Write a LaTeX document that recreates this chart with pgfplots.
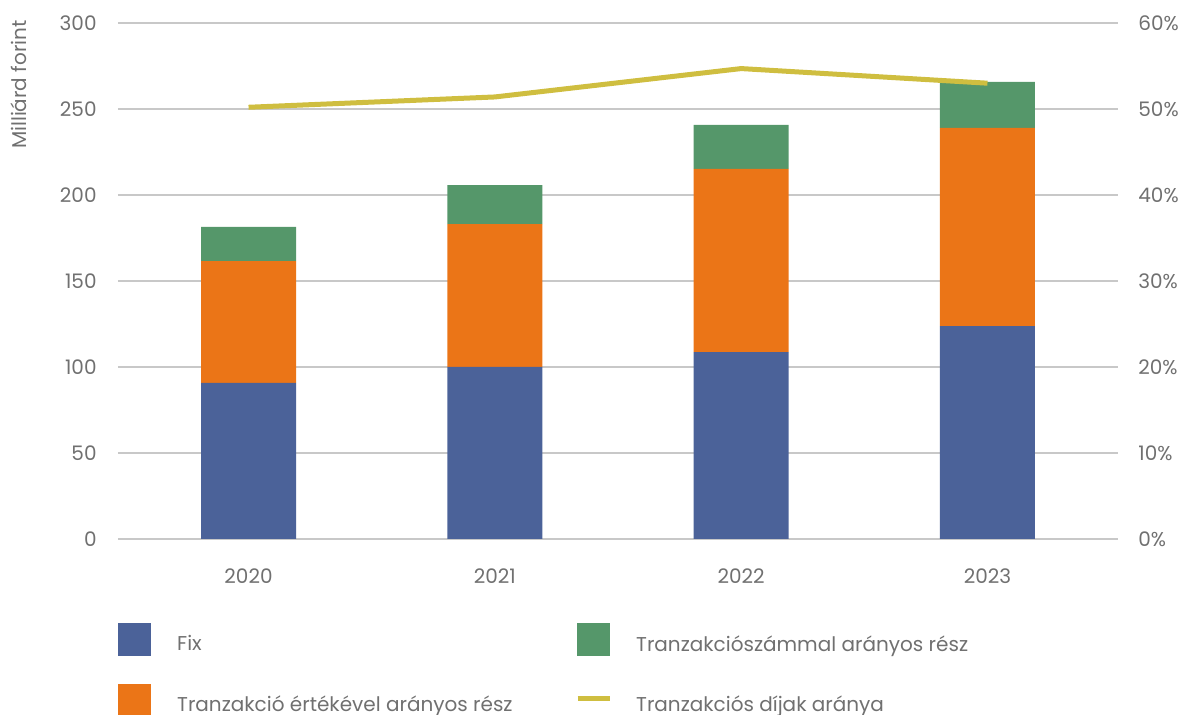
\documentclass[border=0pt]{standalone}
\usepackage{pgfplots}
\pgfplotsset{compat=1.18}
\usepackage{fontspec}
\setmainfont{Poppins}
\definecolor{fixblue}{HTML}{4B6299}
\definecolor{valorange}{HTML}{EB7517}
\definecolor{cntgreen}{HTML}{55976A}
\definecolor{lineyellow}{HTML}{CFBE40}
\definecolor{gridgray}{HTML}{C8C8C8}
\definecolor{txtgray}{HTML}{707070}
\begin{document}
\begin{tikzpicture}[font=\fontsize{10}{12}\selectfont]
\pgfplotsset{
  common/.style={
    width=500pt, height=258pt, scale only axis,
    xmin=-0.53, xmax=3.53,
    axis line style={draw=none},
    tick style={draw=none},
    /pgf/number format/assume math mode=true,
    ticklabel style={text=txtgray},
  }
}
\begin{axis}[common, name=ax,
  ymin=0, ymax=300, ytick={0,50,...,300},
  ymajorgrids, grid style={gridgray, line width=0.75pt},
  xtick={0,1,2,3}, xticklabels={2020,2021,2022,2023},
  xticklabel style={anchor=base, inner sep=0pt, yshift=-22.5pt},
  yticklabel style={anchor=east, inner sep=0pt, xshift=-10.5pt},
  ylabel={Milliárd forint},
  every axis y label/.style={at={(rel axis cs:0,1)}, xshift=-45.5pt, yshift=1.5pt, rotate=90, anchor=south east, inner sep=0pt, text=txtgray},
  ybar stacked, bar width=47.5pt,
  legend columns=2,
  legend style={draw=none, fill=none, at={(0,-0.1628)}, anchor=north west, inner sep=0pt, column sep=0pt, row sep=14pt, nodes={inner sep=0pt, text=txtgray}},
  legend cell align=left,
]
\addplot[fill=fixblue, draw=none, forget plot] coordinates {(0,90.7) (1,100) (2,108.7) (3,123.8)};
\addplot[fill=valorange, draw=none, forget plot] coordinates {(0,70.9) (1,83) (2,106.5) (3,115.2)};
\addplot[fill=cntgreen, draw=none, forget plot] coordinates {(0,19.8) (1,22.8) (2,25.5) (3,26.7)};
\addlegendimage{legend image code/.code={\fill[fixblue] (0pt,-5.5pt) rectangle (16pt,10.5pt);}}
\addlegendentry{\hspace{13pt}\makebox[199pt][l]{Fix}}
\addlegendimage{legend image code/.code={\fill[cntgreen] (0pt,-5.5pt) rectangle (16pt,10.5pt);}}
\addlegendentry{\hspace{12pt}Tranzakciószámmal arányos rész}
\addlegendimage{legend image code/.code={\fill[valorange] (0pt,-5.5pt) rectangle (16pt,10.5pt);}}
\addlegendentry{\hspace{13pt}\makebox[199pt][l]{Tranzakció értékével arányos rész}}
\addlegendimage{legend image code/.code={\draw[lineyellow, line width=2.5pt] (0pt,3.5pt) -- (16pt,3.5pt);}}
\addlegendentry{\hspace{12pt}Tranzakciós díjak aránya}
\end{axis}
\begin{axis}[common,
  axis y line*=right, axis x line=none,
  ymin=0, ymax=60, ytick={0,10,...,60},
  yticklabel={\pgfmathprintnumber{\tick}\%},
  yticklabel style={anchor=west, inner sep=0pt, xshift=10pt},
]
\addplot[lineyellow, line width=2.5pt] coordinates {(0,50.2) (1,51.4) (2,54.7) (3,53.0)};
\end{axis}
\pgfresetboundingbox
\useasboundingbox ([shift={(-59pt,-88pt)}]ax.south west) rectangle ([shift={(33pt,11.5pt)}]ax.north east);
\end{tikzpicture}
\end{document}
